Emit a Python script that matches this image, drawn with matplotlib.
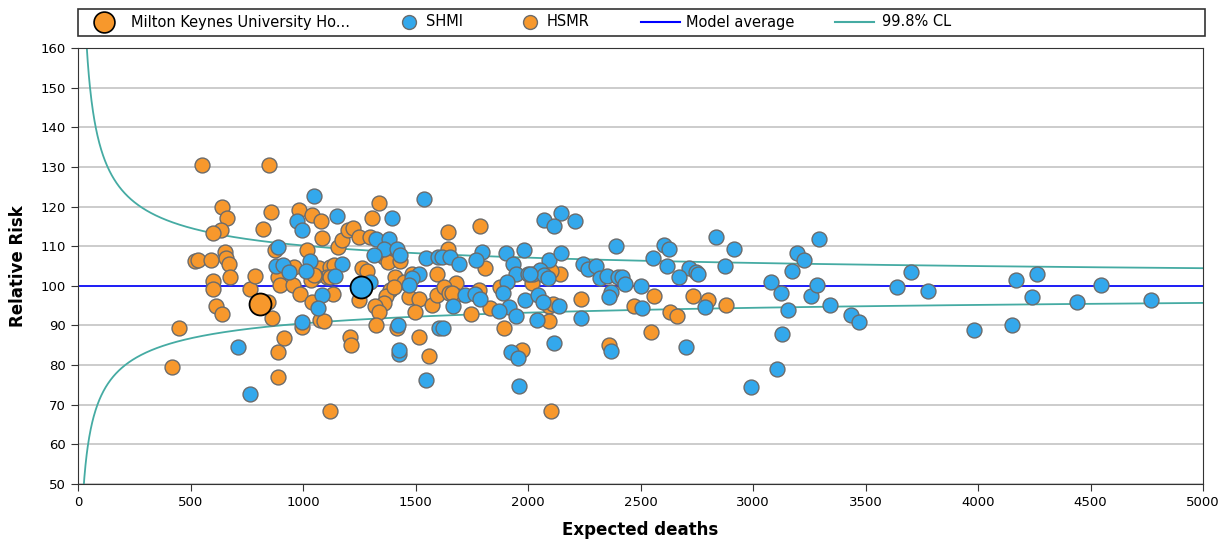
import numpy as np
import matplotlib
matplotlib.use("Agg")
import matplotlib.pyplot as plt
from matplotlib.lines import Line2D
from matplotlib.patches import Rectangle

# HSMR points (expected deaths, relative risk)
hsmr_x = [550, 639, 661, 635, 599, 654, 657, 672, 520, 532, 590, 676, 599, 599, 765, 787, 614, 641, 449, 419, 824,
          845, 850, 857, 983, 1042, 1080, 1084, 1154, 1173, 1198, 1017, 876, 958, 1032, 1069, 1121, 1136, 1106, 1054,
          891, 899, 954, 988, 1039, 1035, 1133, 861, 1074, 1094, 995, 916, 891, 891, 1121, 1210, 1215, 1047, 1121,
          1336, 1306, 1222, 1251, 1299, 1358, 1376, 1429, 1262, 1284, 1410, 1447, 1484, 1388, 1370, 1358, 1321, 1336,
          1251, 1469, 1514, 1499, 1573, 1595, 1326, 1418, 1514, 1561, 1403,
          1643, 1788, 1643, 1811, 1595, 1681, 1625, 1647, 1677, 1781, 1833, 1746, 1892, 1877, 1973, 1662,
          2141, 2100, 2018, 2092, 2111, 2092, 2236, 2362, 2103,
          2559, 2734, 2799, 2878, 2470, 2630, 2663, 2548]
hsmr_y = [130.4, 119.9, 117.1, 114.0, 113.2, 108.6, 106.9, 105.6, 106.2, 106.5, 106.5, 102.3, 101.2, 99.1, 99.1, 102.5, 94.9, 93.0, 89.3, 79.4, 114.3,
          95.8, 130.4, 118.6, 119.1, 117.8, 116.4, 112.1, 109.8, 111.5, 114.0, 109.0, 109.0, 104.8, 104.8, 104.4, 104.8, 105.2, 102.3, 102.4,
          102.3, 100.2, 100.2, 97.9, 96.0, 101.4, 97.9, 91.8, 91.5, 91.2, 89.5, 86.9, 83.4, 77.1, 68.3, 87.2, 85.1, 102.7, 102.3,
          121.0, 117.0, 114.5, 112.2, 112.3, 107.3, 106.0, 106.3, 104.4, 103.8, 102.3, 101.0, 103.1, 98.9, 97.4, 95.6, 94.9, 93.5,
          96.4, 97.2, 96.6, 93.5, 95.1, 97.7, 90.1, 89.3, 87.0, 82.3, 99.7,
          113.6, 115.0, 109.4, 104.6, 103.0, 100.8, 99.7, 98.2, 97.7, 98.9, 94.3, 92.9, 89.3, 99.7, 83.8, 98.1,
          102.9, 103.8, 100.6, 94.9, 95.4, 91.2, 96.6, 85.1, 68.3,
          97.5, 97.5, 96.4, 95.1, 94.9, 93.3, 92.4, 88.4]

# SHMI points
shmi_x = [710, 765,
          1050, 1151, 973, 995, 891, 1029, 881, 913, 936, 1014, 1173, 1143, 1084, 1065, 995,
          1539, 1395, 1326, 1381, 1358, 1418, 1432, 1314, 1548, 1598, 1299, 1514, 1484, 1469, 1420, 1603, 1425, 1427, 1548,
          1796, 1904, 1984, 1618, 1652, 1692, 1771, 1934, 1948, 1907, 1999, 1721, 1766, 1785, 1889, 1914, 1870, 1948,
          1988, 1667, 1622, 1924, 1954, 1962,
          2147, 2073, 2115, 2211, 2092, 2147, 2389, 2245, 2266, 2300, 2319, 2352, 2399, 2022, 2052, 2070, 2088, 2043,
          2067, 2137, 2041, 2236, 2367, 2359, 2117, 2370, 2011,
          2834, 2604, 2626, 2555, 2619, 2715, 2745, 2755, 2671, 2874, 2915, 2419, 2429, 2500, 2507, 2785, 2700,
          3078, 3123, 3157, 3127, 3108, 2989, 3175, 3197, 3227, 3293, 3259, 3283, 3340, 3434, 3470, 3638, 3701, 3778,
          3981, 4149, 4169, 4262, 4239, 4442, 4548, 4770]
shmi_y = [84.5, 72.7,
          122.7, 117.6, 116.4, 114.0, 109.7, 106.3, 105.0, 105.2, 103.4, 103.8, 105.4, 102.5, 97.7, 94.5, 90.8,
          122.0, 117.0, 111.9, 111.9, 109.2, 109.2, 107.7, 107.7, 107.1, 107.3, 101.0, 103.1, 101.9, 100.2, 90.1, 89.3, 82.8, 83.8, 76.2,
          108.6, 108.3, 109.0, 107.3, 107.3, 105.6, 106.6, 105.5, 102.9, 101.0, 103.1, 97.7, 97.9, 96.6, 98.2, 94.7, 93.6, 92.4,
          96.4, 94.9, 89.3, 83.4, 81.7, 74.7,
          118.4, 116.7, 115.0, 116.3, 106.6, 108.2, 110.0, 105.5, 104.2, 105.0, 101.9, 102.4, 102.3, 103.1, 104.1, 102.7, 101.9, 97.7,
          96.0, 94.9, 91.5, 92.0, 98.5, 97.2, 85.5, 83.6, 102.9,
          112.3, 110.3, 109.2, 107.1, 105.0, 104.4, 103.5, 102.9, 102.3, 105.0, 109.2, 102.1, 100.4, 99.9, 94.3, 94.7, 84.5,
          101.0, 98.2, 94.0, 87.8, 79.0, 74.4, 103.8, 108.2, 106.5, 111.9, 97.5, 100.2, 95.1, 92.6, 90.8, 99.8, 103.4, 98.7,
          88.8, 90.1, 101.4, 102.9, 97.1, 95.9, 100.2, 96.4]

# Milton Keynes highlighted trust
mk_hsmr = (810, 95.3)
mk_shmi = (1258, 99.6)

model_average = 100
z_998 = 3.09

orange = '#F7982C'
blue = '#33A8EC'
teal = '#45ABA3'

W, H = 1226, 545


def poisson_limits(e, z):
    # Wilson-Hilferty approximation of exact Poisson control limits
    up = (e + 1) * (1 - 1 / (9 * (e + 1)) + z / (3 * np.sqrt(e + 1))) ** 3
    lo = e * (1 - 1 / (9 * e) - z / (3 * np.sqrt(e))) ** 3
    return 100 * up / e, 100 * lo / e


fig = plt.figure(figsize=(W / 100, H / 100), dpi=100)
ax = fig.add_axes([78 / W, 1 - 484 / H, (1203 - 78) / W, (484 - 48) / H])

ax.scatter(hsmr_x, hsmr_y, s=115, c=orange, edgecolors='#6b6b6b', linewidths=1.0, zorder=3)
ax.scatter(shmi_x, shmi_y, s=115, c=blue, edgecolors='#6b6b6b', linewidths=1.0, zorder=4)
ax.scatter([mk_hsmr[0]], [mk_hsmr[1]], s=250, c=orange, edgecolors='black', linewidths=1.3, zorder=5)
ax.scatter([mk_shmi[0]], [mk_shmi[1]], s=250, c=blue, edgecolors='black', linewidths=1.3, zorder=5)

ax.axhline(model_average, color='#0000FF', lw=1.2, zorder=2)
e = np.linspace(10, 5000, 3000)
upper, lower = poisson_limits(e, z_998)
ax.plot(e, upper, color=teal, lw=1.3, zorder=2)
ax.plot(e, lower, color=teal, lw=1.3, zorder=2)

ax.set_xlim(0, 5000)
ax.set_ylim(50, 160)
ax.set_xticks(np.arange(0, 5001, 500))
ax.set_yticks(np.arange(50, 161, 10))
ax.yaxis.grid(True, color='#c8c8c8', lw=1.3)
ax.set_axisbelow(True)
ax.tick_params(labelsize=9.5, length=5, color='#333333')
for s in ax.spines.values():
    s.set_color('#333333')
ax.set_xlabel('Expected deaths', fontsize=12, fontweight='bold', labelpad=9)
ax.set_ylabel('Relative Risk', fontsize=12, fontweight='bold', labelpad=10)

# legend strip above the plot, laid out like the original
fig.patches.append(Rectangle((78 / W, 1 - 36 / H), (1205 - 78) / W, 27 / H,
                             transform=fig.transFigure, fill=False, ec='#333333', lw=1.2))
ly = 1 - 22 / H
legend_items = [
    ('marker', 104, 131, dict(ms=15, mfc=orange, mec='black', mew=1.2), 'Milton Keynes University Ho...'),
    ('marker', 409, 426, dict(ms=10, mfc=blue, mec='#6b6b6b', mew=1.0), 'SHMI'),
    ('marker', 530, 547, dict(ms=10, mfc=orange, mec='#6b6b6b', mew=1.0), 'HSMR'),
    ('line', (641, 680), 686, dict(color='#0000FF', lw=1.5), 'Model average'),
    ('line', (835, 874), 882, dict(color=teal, lw=1.5), '99.8% CL'),
]
for kind, hx, tx, style, label in legend_items:
    if kind == 'marker':
        fig.add_artist(Line2D([hx / W], [ly], ls='', marker='o', transform=fig.transFigure, **style))
    else:
        fig.add_artist(Line2D([hx[0] / W, hx[1] / W], [ly, ly], transform=fig.transFigure, **style))
    fig.text(tx / W, ly, label, fontsize=10.5, va='center', ha='left')

fig.savefig('out.png', dpi=100)
